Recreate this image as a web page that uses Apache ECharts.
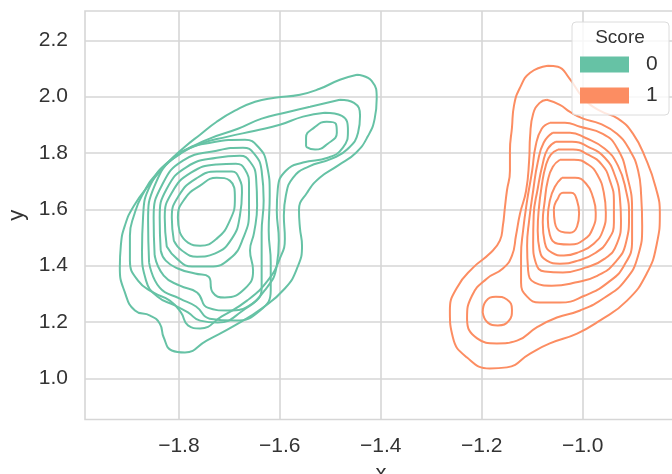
<!DOCTYPE html>
<html>
<head>
<meta charset="utf-8">
<script src="https://cdn.jsdelivr.net/npm/echarts@6/dist/echarts.min.js"></script>
<style>
  html, body { margin: 0; padding: 0; background: #fff; }
  #chart { width: 672px; height: 474px; }
</style>
</head>
<body>
<div id="chart"></div>
<script>
// contour lines of the two densities as [x, y]
const score0Level1 = [[-1.447,2.078],[-1.418,2.056],[-1.408,1.993],[-1.412,1.922],[-1.425,1.861],[-1.449,1.801],[-1.485,1.755],[-1.521,1.712],[-1.546,1.659],[-1.562,1.598],[-1.560,1.532],[-1.556,1.471],[-1.566,1.390],[-1.590,1.319],[-1.636,1.248],[-1.689,1.188],[-1.745,1.134],[-1.788,1.092],[-1.814,1.099],[-1.830,1.145],[-1.838,1.195],[-1.857,1.223],[-1.887,1.241],[-1.907,1.305],[-1.917,1.393],[-1.915,1.471],[-1.907,1.542],[-1.889,1.613],[-1.857,1.691],[-1.824,1.762],[-1.788,1.822],[-1.758,1.865],[-1.725,1.911],[-1.689,1.950],[-1.649,1.982],[-1.610,1.996],[-1.560,2.007],[-1.521,2.028],[-1.481,2.060]]
const score0Level2 = [[-1.481,1.989],[-1.453,1.978],[-1.441,1.932],[-1.445,1.872],[-1.465,1.815],[-1.497,1.780],[-1.544,1.751],[-1.574,1.712],[-1.588,1.649],[-1.592,1.578],[-1.590,1.496],[-1.600,1.425],[-1.624,1.347],[-1.665,1.276],[-1.715,1.220],[-1.758,1.177],[-1.782,1.188],[-1.796,1.234],[-1.818,1.276],[-1.851,1.305],[-1.881,1.347],[-1.897,1.418],[-1.897,1.507],[-1.889,1.578],[-1.873,1.649],[-1.842,1.730],[-1.794,1.801],[-1.739,1.851],[-1.683,1.886],[-1.636,1.922],[-1.590,1.943],[-1.540,1.964]]
const score0Level3 = [[-1.511,1.943],[-1.477,1.932],[-1.465,1.879],[-1.475,1.819],[-1.505,1.783],[-1.554,1.766],[-1.588,1.737],[-1.604,1.673],[-1.606,1.595],[-1.602,1.489],[-1.606,1.400],[-1.630,1.312],[-1.673,1.241],[-1.723,1.198],[-1.758,1.205],[-1.782,1.234],[-1.808,1.259],[-1.842,1.290],[-1.865,1.347],[-1.873,1.454],[-1.871,1.571],[-1.857,1.684],[-1.818,1.773],[-1.762,1.829],[-1.703,1.858],[-1.649,1.879],[-1.600,1.900],[-1.554,1.929]]
const score0Level4 = [[-1.859,1.411],[-1.861,1.560],[-1.848,1.684],[-1.804,1.790],[-1.735,1.837],[-1.669,1.847],[-1.643,1.822],[-1.626,1.762],[-1.620,1.649],[-1.622,1.524],[-1.618,1.411],[-1.618,1.312],[-1.639,1.241],[-1.689,1.205],[-1.739,1.212],[-1.766,1.255],[-1.798,1.283],[-1.838,1.322]]
const score0Level4Peak2 = [[-1.548,1.822],[-1.548,1.854],[-1.532,1.890],[-1.507,1.911],[-1.489,1.904],[-1.487,1.872],[-1.505,1.833],[-1.530,1.812]]
const score0Level5 = [[-1.848,1.436],[-1.850,1.571],[-1.834,1.684],[-1.792,1.773],[-1.725,1.808],[-1.673,1.819],[-1.651,1.798],[-1.636,1.737],[-1.632,1.631],[-1.636,1.517],[-1.636,1.411],[-1.636,1.322],[-1.655,1.265],[-1.703,1.241],[-1.743,1.251],[-1.764,1.305],[-1.798,1.329],[-1.830,1.365]]
const score0Level6 = [[-1.836,1.454],[-1.838,1.571],[-1.824,1.673],[-1.784,1.751],[-1.725,1.783],[-1.679,1.790],[-1.659,1.769],[-1.647,1.712],[-1.645,1.613],[-1.651,1.517],[-1.659,1.454],[-1.653,1.383],[-1.669,1.319],[-1.709,1.287],[-1.733,1.305],[-1.741,1.361],[-1.768,1.372],[-1.802,1.390],[-1.826,1.418]]
const score0Level7 = [[-1.824,1.468],[-1.828,1.571],[-1.814,1.659],[-1.776,1.730],[-1.725,1.759],[-1.687,1.762],[-1.669,1.741],[-1.661,1.684],[-1.661,1.595],[-1.673,1.496],[-1.699,1.425],[-1.739,1.397],[-1.774,1.397],[-1.804,1.425]]
const score0Level8 = [[-1.810,1.489],[-1.814,1.571],[-1.800,1.649],[-1.766,1.709],[-1.725,1.734],[-1.695,1.734],[-1.681,1.712],[-1.675,1.659],[-1.679,1.578],[-1.695,1.496],[-1.729,1.443],[-1.764,1.432],[-1.794,1.454]]
const score0Level9 = [[-1.798,1.517],[-1.802,1.571],[-1.788,1.638],[-1.758,1.684],[-1.725,1.712],[-1.699,1.702],[-1.689,1.638],[-1.699,1.560],[-1.725,1.496],[-1.758,1.471],[-1.782,1.482]]

const score1Level1 = [[-1.069,2.110],[-1.049,2.106],[-1.027,2.067],[-0.999,1.996],[-0.966,1.950],[-0.930,1.922],[-0.900,1.868],[-0.875,1.780],[-0.855,1.677],[-0.847,1.585],[-0.853,1.478],[-0.873,1.372],[-0.912,1.276],[-0.966,1.205],[-1.011,1.159],[-1.065,1.124],[-1.104,1.088],[-1.150,1.039],[-1.184,1.035],[-1.229,1.074],[-1.257,1.145],[-1.263,1.241],[-1.249,1.322],[-1.217,1.393],[-1.184,1.443],[-1.164,1.489],[-1.158,1.542],[-1.154,1.606],[-1.150,1.666],[-1.144,1.737],[-1.144,1.808],[-1.140,1.890],[-1.136,1.968],[-1.124,2.032],[-1.104,2.085]]
const score1Level2 = [[-1.071,1.989],[-1.045,1.971],[-1.025,1.946],[-0.999,1.922],[-0.966,1.904],[-0.932,1.868],[-0.906,1.808],[-0.890,1.737],[-0.884,1.649],[-0.882,1.542],[-0.890,1.436],[-0.916,1.347],[-0.956,1.287],[-1.005,1.241],[-1.051,1.216],[-1.091,1.181],[-1.130,1.134],[-1.170,1.124],[-1.209,1.142],[-1.229,1.212],[-1.219,1.294],[-1.190,1.354],[-1.158,1.390],[-1.140,1.436],[-1.132,1.507],[-1.124,1.585],[-1.112,1.666],[-1.106,1.773],[-1.104,1.861],[-1.098,1.939],[-1.085,1.978]]
const score1Level3 = [[-1.065,1.907],[-1.035,1.907],[-1.005,1.893],[-0.960,1.868],[-0.932,1.819],[-0.912,1.720],[-0.902,1.595],[-0.902,1.489],[-0.918,1.400],[-0.950,1.340],[-0.995,1.294],[-1.045,1.269],[-1.085,1.269],[-1.110,1.290],[-1.122,1.340],[-1.122,1.436],[-1.118,1.524],[-1.110,1.631],[-1.100,1.737],[-1.093,1.826],[-1.081,1.886]]
const score1Level3Peak2 = [[-1.198,1.234],[-1.192,1.273],[-1.172,1.290],[-1.150,1.280],[-1.140,1.244],[-1.146,1.205],[-1.168,1.188],[-1.188,1.198]]
const score1Level4 = [[-1.059,1.872],[-1.025,1.872],[-0.995,1.854],[-0.956,1.815],[-0.930,1.755],[-0.914,1.666],[-0.908,1.578],[-0.914,1.482],[-0.936,1.411],[-0.970,1.365],[-1.015,1.340],[-1.061,1.329],[-1.095,1.340],[-1.108,1.383],[-1.110,1.471],[-1.106,1.560],[-1.098,1.666],[-1.089,1.766],[-1.077,1.837]]
const score1Level5 = [[-1.053,1.840],[-1.021,1.840],[-0.989,1.822],[-0.956,1.783],[-0.936,1.720],[-0.926,1.638],[-0.924,1.560],[-0.932,1.478],[-0.956,1.425],[-0.995,1.393],[-1.039,1.376],[-1.075,1.379],[-1.093,1.411],[-1.098,1.482],[-1.097,1.578],[-1.089,1.673],[-1.079,1.762],[-1.069,1.815]]
const score1Level6 = [[-1.049,1.812],[-1.019,1.812],[-0.989,1.794],[-0.962,1.759],[-0.946,1.702],[-0.938,1.631],[-0.938,1.553],[-0.950,1.489],[-0.974,1.446],[-1.009,1.418],[-1.045,1.407],[-1.071,1.418],[-1.085,1.454],[-1.089,1.524],[-1.087,1.598],[-1.081,1.684],[-1.073,1.755],[-1.063,1.794]]
const score1Level7 = [[-1.045,1.776],[-1.017,1.776],[-0.989,1.759],[-0.970,1.720],[-0.958,1.659],[-0.954,1.588],[-0.960,1.524],[-0.978,1.478],[-1.005,1.450],[-1.037,1.436],[-1.061,1.446],[-1.075,1.482],[-1.079,1.553],[-1.075,1.631],[-1.069,1.702],[-1.059,1.751]]
const score1Level8 = [[-1.041,1.712],[-1.015,1.712],[-0.993,1.691],[-0.980,1.645],[-0.974,1.588],[-0.980,1.532],[-0.997,1.493],[-1.025,1.475],[-1.049,1.478],[-1.065,1.510],[-1.069,1.567],[-1.065,1.631],[-1.055,1.680]]
const score1Level9 = [[-1.049,1.638],[-1.039,1.659],[-1.023,1.659],[-1.011,1.631],[-1.007,1.585],[-1.011,1.539],[-1.025,1.517],[-1.043,1.521],[-1.055,1.553],[-1.057,1.598]]

const xTicks = [-1.8, -1.6, -1.4, -1.2, -1.0]
const yTicks = [1.0, 1.2, 1.4, 1.6, 1.8, 2.0, 2.2]
const scoreNames = ['0', '1']
const scoreColors = ['#66c2a5', '#fc8d62']

const score0Lines = [score0Level1, score0Level2, score0Level3, score0Level4, score0Level4Peak2,
  score0Level5, score0Level6, score0Level7, score0Level8, score0Level9]
const score1Lines = [score1Level1, score1Level2, score1Level3, score1Level3Peak2, score1Level4,
  score1Level5, score1Level6, score1Level7, score1Level8, score1Level9]

const FONT = '"Liberation Sans", Arial, sans-serif'
const TEXT = '#333333'
const GRID = '#d6d6d6'

function contour(name, color, pts) {
  return {
    name: name,
    type: 'line',
    data: pts.concat([pts[0]]), // close the loop
    smooth: 0.5,
    symbol: 'none',
    silent: true,
    lineStyle: { color: color, width: 2 },
    itemStyle: { color: color },
    z: 3
  }
}

function tickText(v) {
  return (v < 0 ? '\u2212' : '') + Math.abs(v).toFixed(1)
}

const series = []
score0Lines.forEach(p => series.push(contour(scoreNames[0], scoreColors[0], p)))
score1Lines.forEach(p => series.push(contour(scoreNames[1], scoreColors[1], p)))

const chart = echarts.init(document.getElementById('chart'), null, { renderer: 'canvas' })
chart.setOption({
  animation: false,
  backgroundColor: '#ffffff',
  grid: {
    left: 85, top: 11, width: 592, height: 408.5,
    outerBoundsMode: 'none',
    containLabel: false,
    show: true, borderColor: GRID, borderWidth: 1.6, backgroundColor: 'transparent'
  },
  xAxis: {
    type: 'value',
    min: -1.986,
    max: -0.813,
    name: 'x',
    nameLocation: 'middle',
    nameGap: 43,
    nameTextStyle: { fontFamily: FONT, fontSize: 22, color: TEXT },
    axisLine: { show: false },
    axisTick: { show: false, customValues: xTicks },
    axisLabel: {
      customValues: xTicks,
      formatter: tickText,
      fontFamily: FONT, fontSize: 21, color: TEXT, margin: 16
    },
    splitLine: { show: true, lineStyle: { color: GRID, width: 1.6 } }
  },
  yAxis: {
    type: 'value',
    min: 0.854,
    max: 2.304,
    name: 'y',
    nameLocation: 'middle',
    nameRotate: 90,
    nameGap: 57,
    nameTextStyle: { fontFamily: FONT, fontSize: 22, color: TEXT },
    axisLine: { show: false },
    axisTick: { show: false, customValues: yTicks },
    axisLabel: {
      customValues: yTicks,
      formatter: v => v.toFixed(1),
      fontFamily: FONT, fontSize: 21, color: TEXT, margin: 17
    },
    splitLine: { show: true, lineStyle: { color: GRID, width: 1.6 } }
  },
  legend: {
    orient: 'vertical',
    left: 580,
    top: 54,
    z: 20,
    padding: 0,
    itemGap: 10,
    itemWidth: 49,
    itemHeight: 16,
    selectedMode: false,
    icon: 'rect',
    data: scoreNames.map((n, i) => ({ name: n, itemStyle: { color: scoreColors[i], borderWidth: 0 } })),
    textStyle: { fontFamily: FONT, fontSize: 21, lineHeight: 21, color: TEXT, padding: [0, 0, 0, 12] }
  },
  graphic: [
    {
      type: 'rect', z: 10, silent: true,
      shape: { x: 572, y: 22, width: 97, height: 93, r: 4 },
      style: { fill: 'rgba(255,255,255,0.8)', stroke: '#dcdcdc', lineWidth: 1 }
    },
    {
      type: 'text', z: 20, silent: true,
      x: 620, y: 38,
      style: { text: 'Score', font: '19px ' + FONT, fill: TEXT, align: 'center', verticalAlign: 'middle' }
    }
  ],
  series: series
})
</script>
</body>
</html>
